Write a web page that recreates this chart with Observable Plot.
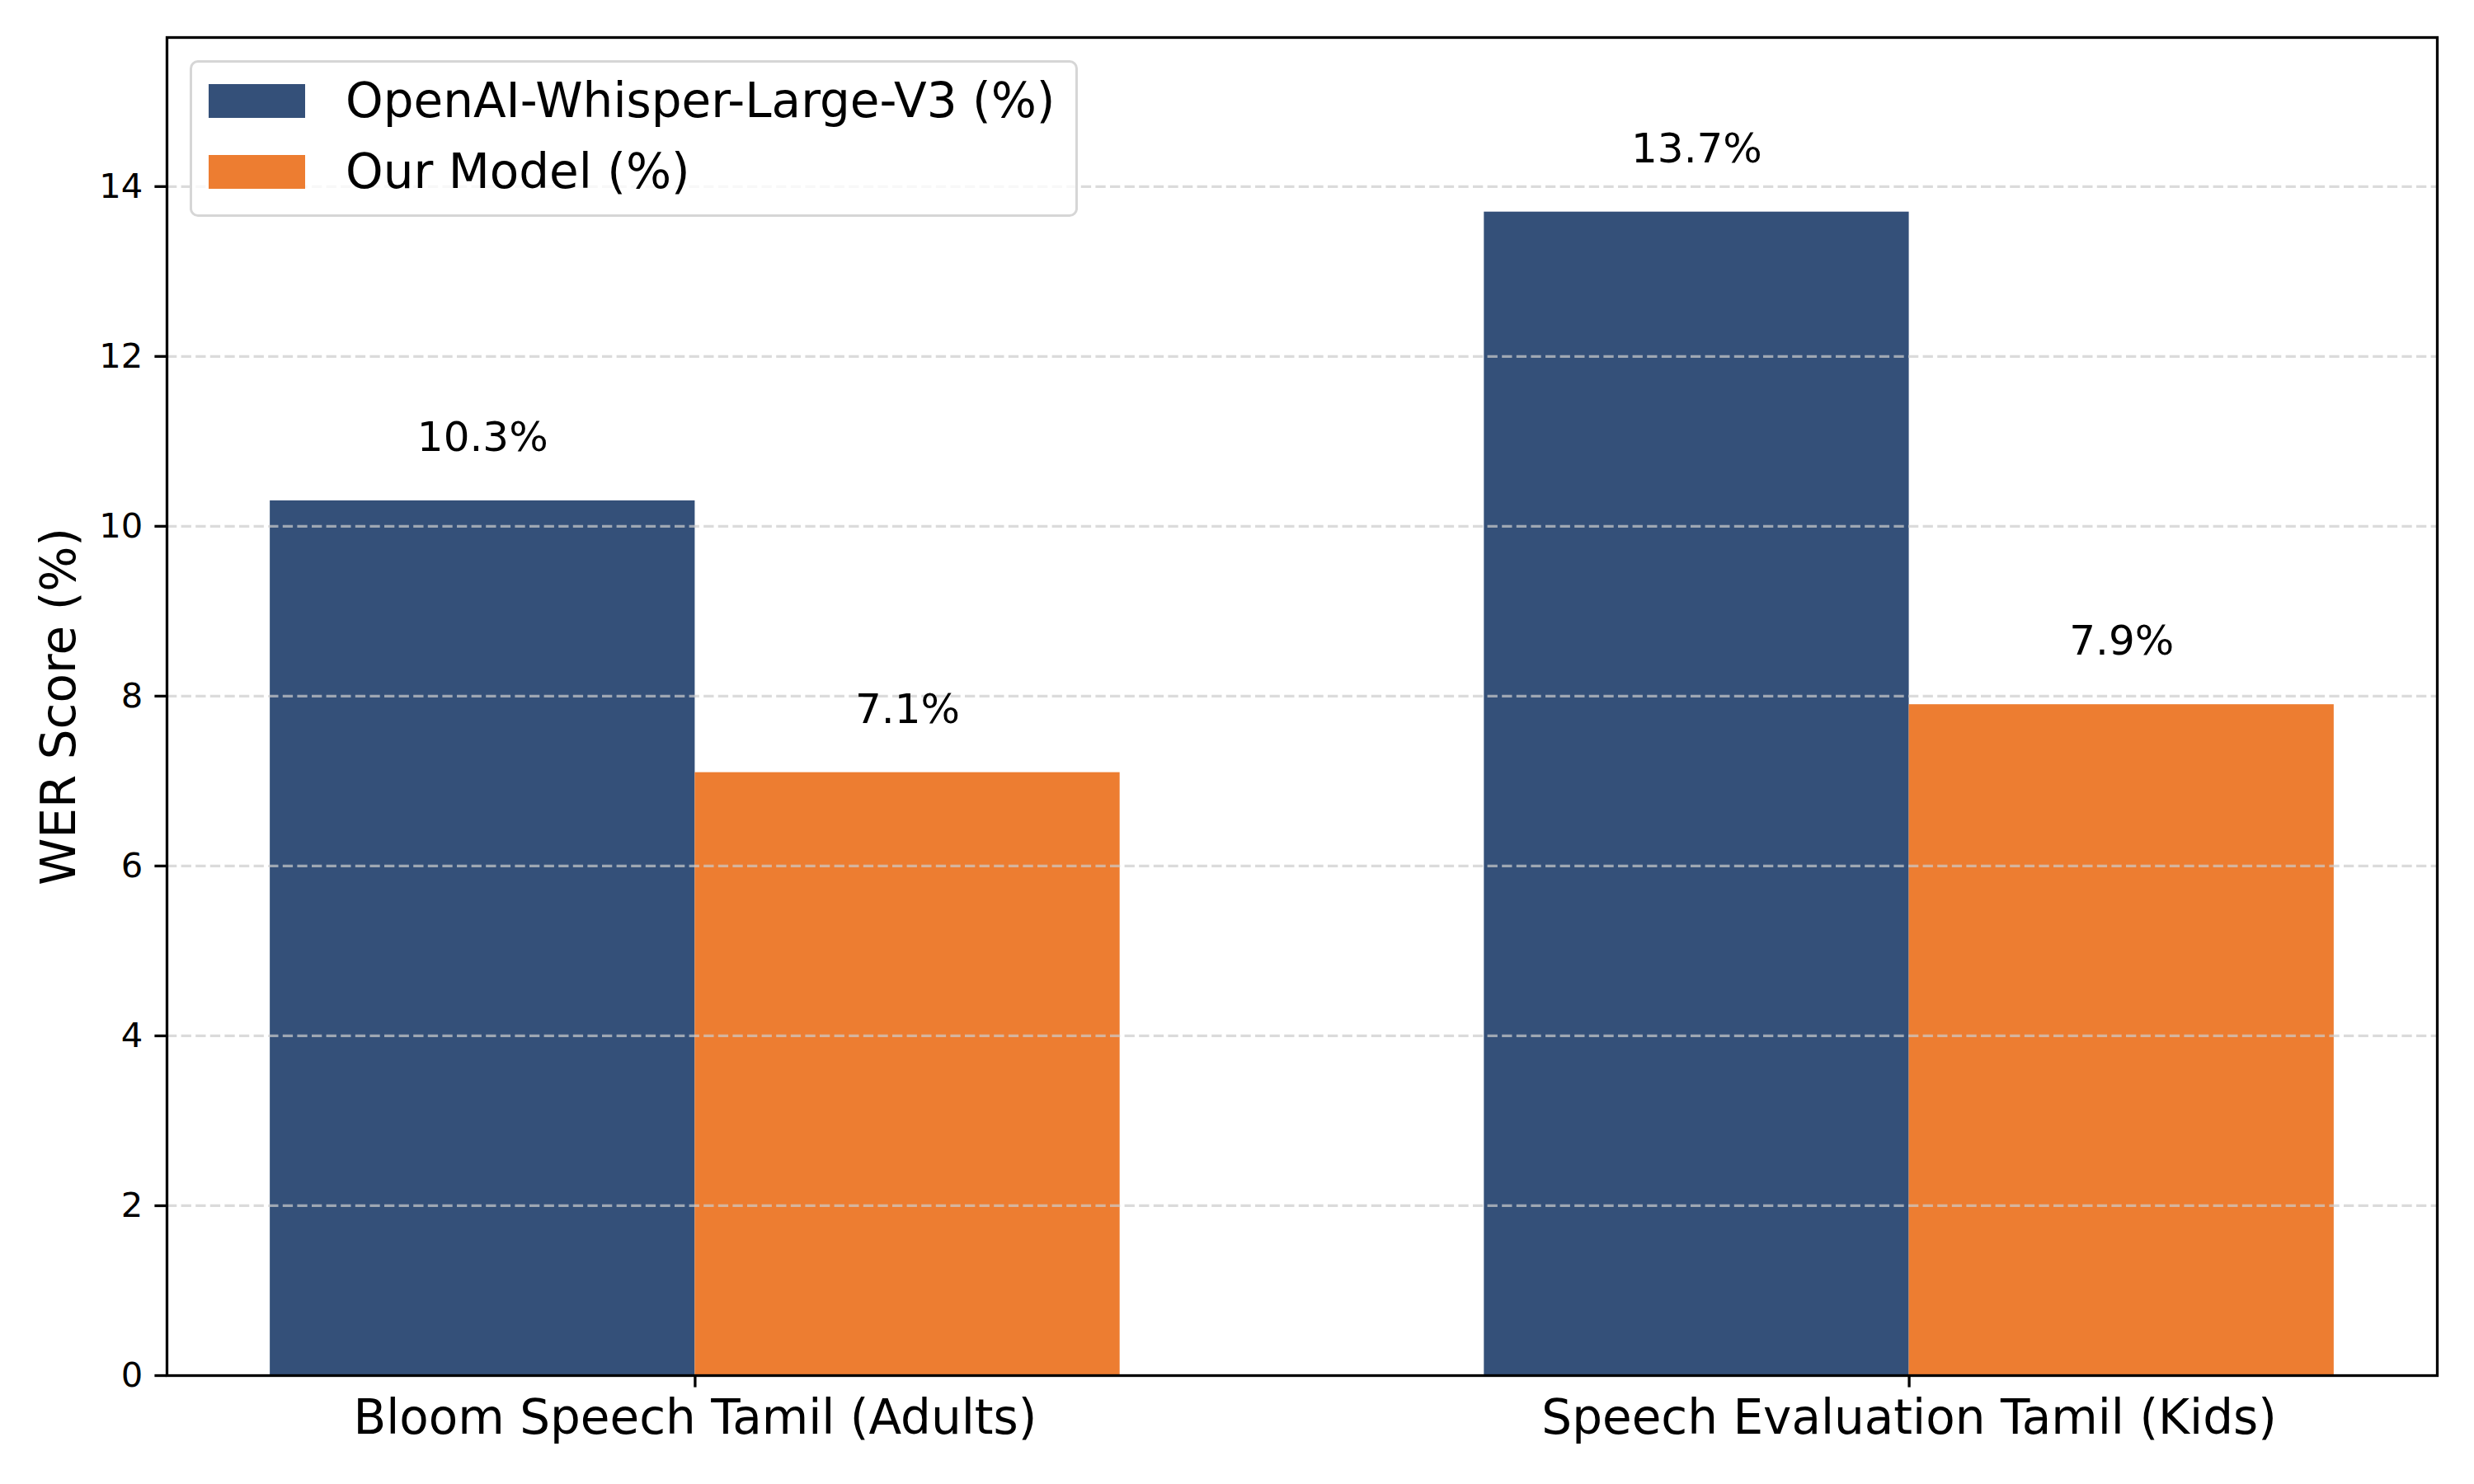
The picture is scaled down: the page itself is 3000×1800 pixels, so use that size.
<!DOCTYPE html>
<html>
<head>
<meta charset="utf-8">
<script src="https://cdn.jsdelivr.net/npm/d3@7"></script>
<script src="https://cdn.jsdelivr.net/npm/@observablehq/plot@0.6"></script>
<style>
  html, body { margin: 0; padding: 0; background: #ffffff; }
  #wrap { position: relative; width: 3000px; height: 1800px; font-family: "DejaVu Sans", sans-serif; }
  #wrap svg { display: block; }
  #legend {
    position: absolute; left: 230px; top: 73px;
    width: 1071px; height: 184px;
    border: 3px solid #d6d6d6; border-radius: 10px;
    background: rgba(255,255,255,0.8);
  }
  .item { position: absolute; left: 20px; height: 41px; }
  .swatch { position: absolute; left: 0; top: 0; width: 117px; height: 41px; }
  .label { position: absolute; left: 166px; white-space: nowrap; font-size: 58px; line-height: 58px; color: #000; }
</style>
</head>
<body>
<div id="wrap"></div>
<script>
// ---- data ----
const categories = ["Bloom Speech Tamil (Adults)", "Speech Evaluation Tamil (Kids)"];
const seriesNames = ["OpenAI-Whisper-Large-V3 (%)", "Our Model (%)"];
const whisperValues = [10.3, 13.7];
const ourValues = [7.1, 7.9];
const yTicks = [0, 2, 4, 6, 8, 10, 12, 14];
const yLabel = "WER Score (%)";
const palette = ["#345079", "#ED7D31"];

// layout constants (grouped bars, matplotlib-like)
const barWidth = 0.35;
const xMargin = 0.05 * (categories.length - 1 + 2 * barWidth);

const table = categories.flatMap((c, i) => [
  {index: i, category: c, s: 0, series: seriesNames[0], value: whisperValues[i]},
  {index: i, category: c, s: 1, series: seriesNames[1], value: ourValues[i]}
]);
const left = d => d.index + (d.s - 1) * barWidth;
const yMax = d3.max(table, d => d.value) * 1.15;

const chart = Plot.plot({
  width: 3000,
  height: 1800,
  marginLeft: 202,
  marginRight: 45,
  marginTop: 45,
  marginBottom: 132,
  style: {fontFamily: "DejaVu Sans", background: "white", color: "black"},
  x: {domain: [-barWidth - xMargin, categories.length - 1 + barWidth + xMargin], label: null},
  y: {domain: [0, yMax], label: null},
  color: {domain: seriesNames, range: palette},
  marks: [
    Plot.rectY(table, {x1: left, x2: d => left(d) + barWidth, y: "value", fill: "series"}),
    Plot.ruleY(yTicks.slice(1), {stroke: "#cccccc", strokeOpacity: 0.7, strokeWidth: 3.3, strokeDasharray: "12.3,5.3"}),
    Plot.text(table, {
      x: d => left(d) + barWidth / 2, y: d => d.value + 0.5,
      text: d => d.value.toFixed(1) + "%",
      lineAnchor: "bottom", fontSize: 50, dy: -9, fill: "black"
    }),
    Plot.axisY(yTicks, {anchor: "left", tickFormat: d => String(d), tickSize: 14.6, tickPadding: 14.6, fontSize: 41.7, strokeWidth: 3.3, label: null}),
    Plot.text([yLabel], {frameAnchor: "left", rotate: -90, lineAnchor: "top", textAnchor: "middle", dx: -153, fontSize: 58, fill: "black"}),
    Plot.axisX(d3.range(categories.length), {anchor: "bottom", tickFormat: i => categories[i], tickSize: 14.6, tickPadding: 14.6, fontSize: 58, strokeWidth: 3.3, label: null}),
    Plot.frame({stroke: "black", strokeWidth: 3.3})
  ]
});

const wrap = document.getElementById("wrap");
wrap.appendChild(chart);

// legend (inside the axes, upper left)
const legend = document.createElement("div");
legend.id = "legend";
seriesNames.forEach((name, i) => {
  const item = document.createElement("div");
  item.className = "item";
  item.style.top = (26 + i * 86) + "px";
  const sw = document.createElement("div");
  sw.className = "swatch";
  sw.style.background = palette[i];
  const lab = document.createElement("div");
  lab.className = "label";
  lab.style.top = "-9px";
  lab.textContent = name;
  item.appendChild(sw);
  item.appendChild(lab);
  legend.appendChild(item);
});
wrap.appendChild(legend);
</script>
</body>
</html>
